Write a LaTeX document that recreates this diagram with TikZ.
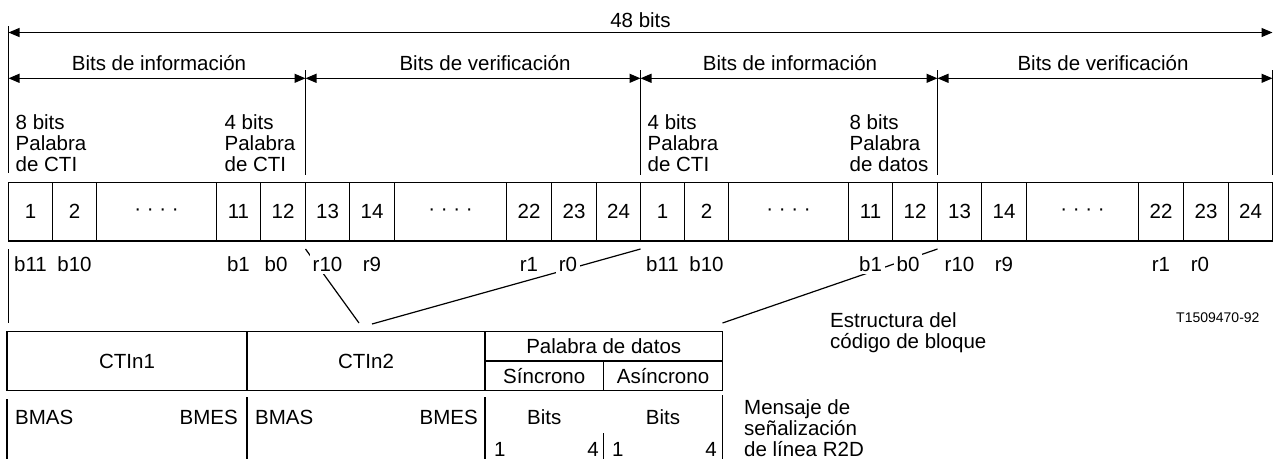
\documentclass[tikz,border=0pt]{standalone}
\usepackage{fontspec}
\setmainfont{Liberation Sans}
\usetikzlibrary{arrows.meta}

\tikzset{
  txt/.style={font=\fontsize{20.5}{20.8}\selectfont, inner sep=0pt},
  small/.style={font=\fontsize{14}{16}\selectfont, inner sep=0pt},
  rule/.style={line width=1.2pt},
  span/.style={{Triangle[length=11pt,width=9pt]}-{Triangle[length=11pt,width=9pt]}, line width=1.2pt},
  cellbox/.style={draw, line width=1.8pt, minimum height=58.5pt, inner sep=0pt, txt},
  tblbox/.style={draw, line width=1.4pt, inner sep=0pt, txt},
  cut/.style={fill=white, inner sep=3pt},
}

\begin{document}
\begin{tikzpicture}[x=1pt,y=-1pt]
  \useasboundingbox (0,0) rectangle (1274,459);
  % ticks and spans on top
  \coordinate (e0) at (8.5,26);
  \coordinate (e1) at (305.5,70);
  \coordinate (e2) at (640.5,70);
  \coordinate (e3) at (937.5,70);
  \coordinate (e4) at (1272.5,70);
  \draw[rule] (e0) -- (e0 |- 0,173);
  \foreach \e in {e1,e2,e3,e4} \draw[rule] (\e) -- (\e |- 0,175);
  \draw[span] (e0 |- 0,32.5) -- (e4 |- 0,32.5);
  \node[txt, anchor=base] (tot) at (640.5,27) {48 bits};
  \draw[span] (e0 |- 0,78.3) -- (e1 |- 0,78.3);
  \draw[span] (e1 |- 0,78.3) -- (e2 |- 0,78.3);
  \draw[span] (e2 |- 0,78.3) -- (e3 |- 0,78.3);
  \draw[span] (e3 |- 0,78.3) -- (e4 |- 0,78.3);
  \node[txt, anchor=base] (inf1) at (159,70.5) {Bits de información};
  \node[txt, anchor=base] (ver1) at (485,70.5) {Bits de verificación};
  \node[txt, anchor=base] (inf2) at (790,70.5) {Bits de información};
  \node[txt, anchor=base] (ver2) at (1103,70.5) {Bits de verificación};
  % word names (base = last line)
  \node[txt, anchor=base west, align=left] (w1) at (15.5,171.3) {8 bits\\Palabra\\de CTI};
  \node[txt, anchor=base east, align=left] (w2) at (295.5,171.3) {4 bits\\Palabra\\de CTI};
  \node[txt, anchor=base west, align=left] (w3) at (647.5,171.3) {4 bits\\Palabra\\de CTI};
  \node[txt, anchor=base east, align=left] (w4) at (928.5,171.3) {8 bits\\Palabra\\de datos};
  % the 48 cells
  \foreach \h/\o in {a/8.5,b/640.5}
    \foreach \n/\l/\r/\t in {1/0/44/1,2/44/88/2,3/88/208/{· · · ·},4/208/252/11,5/252/297/12,6/297/341/13,7/341/386/14,8/386/498/{· · · ·},9/498/543/22,10/543/588/23,11/588/632/24}
      \node[cellbox, minimum width={\r-\l}] (\h\n) at ({\o+(\l+\r)/2},211.75) {\t};
  \draw[rule] (e0 |- 0,249) -- (e0 |- 0,323);
  % links to the message
  \coordinate (k1) at (305.5,249);
  \coordinate (k2) at (640.5,249);
  \coordinate (k3) at (937.5,249);
  \coordinate (m1) at (359,323);
  \coordinate (m2) at (372,324);
  \coordinate (m3) at (722.5,323);
  \draw[rule] (k1) -- (m1);
  \draw[rule] (k2) -- (m2);
  \draw[rule] (k3) -- (m3);
  \foreach \h in {a,b}
    \foreach \n/\t/\s in {1/b11/0,2/b10/0,4/b1/0,5/b0/-7,6/r10/0,7/r9/0,9/r1/0,10/r0/-6}
      \node[txt, cut, anchor=base, xshift=\s] (lab\h\n) at (\h\n.center |- 0,271) {\t};
  % R2D message
  \node[tblbox, minimum width=240, minimum height=59] (ctin1) at (127,361) {CTIn1};
  \node[tblbox, minimum width=238, minimum height=59] (ctin2) at (366,361) {CTIn2};
  \node[tblbox, minimum width=237.5, minimum height=29.5] (pal) at (603.75,346.25) {Palabra de datos};
  \node[tblbox, minimum width=118.5, minimum height=29.5] (sin) at (544.25,375.75) {Síncrono};
  \node[tblbox, minimum width=119, minimum height=29.5] (asin) at (663,375.75) {Asíncrono};
  \foreach \x/\y in {7/399,247/397,485/397,603.5/433,722.5/395}
    \draw[rule] (\x,\y) -- (\x,459);
  \node[txt, anchor=base west] (bmas1) at (15,424) {BMAS};
  \node[txt, anchor=base east] (bmes1) at (238,424) {BMES};
  \node[txt, anchor=base west] (bmas2) at (255,424) {BMAS};
  \node[txt, anchor=base east] (bmes2) at (478,424) {BMES};
  \node[txt, anchor=base] (bits1) at (544.25,424) {Bits};
  \node[txt, anchor=base] (bits2) at (663,424) {Bits};
  \node[txt, anchor=base west] (lo1) at (494,456) {1};
  \node[txt, anchor=base east] (hi1) at (599,456) {4};
  \node[txt, anchor=base west] (lo2) at (612,456) {1};
  \node[txt, anchor=base east] (hi2) at (717,456) {4};
  % notes
  \node[txt, anchor=base west, align=left] (estr) at (830,348) {Estructura del\\código de bloque};
  \node[small, anchor=base west] (ref) at (1176,322) {T1509470-92};
  \node[txt, anchor=base west, align=left] (msg) at (744,456) {Mensaje de\\señalización\\de línea R2D};
\end{tikzpicture}
\end{document}
